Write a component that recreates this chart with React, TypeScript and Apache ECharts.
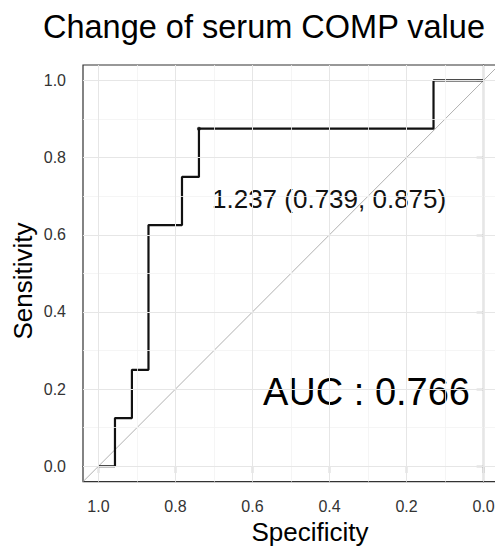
import React, { useEffect, useRef } from "react";
import * as echarts from "echarts";

// ROC curve (specificity, sensitivity)
const rocSpecificity = [1.0, 0.957, 0.957, 0.913, 0.913, 0.87, 0.87, 0.783, 0.783, 0.739, 0.739, 0.13, 0.13, 0.0];
const rocSensitivity = [0.0, 0.0, 0.125, 0.125, 0.25, 0.25, 0.625, 0.625, 0.75, 0.75, 0.875, 0.875, 1.0, 1.0];
// best threshold point
const thresholdPoint = [0.739, 0.875];
const thresholdLabel = "1.237 (0.739, 0.875)";
const aucLabel = "AUC : 0.766";
const titleText = "Change of serum COMP value";
const xAxisTitle = "Specificity";
const yAxisTitle = "Sensitivity";
// identity line across the whole panel
const diagSpecificity = [1.04, -0.04];
const diagSensitivity = [-0.04, 1.04];
const majorTicks = [0, 0.2, 0.4, 0.6, 0.8, 1.0];
const minorTicks = [0.1, 0.3, 0.5, 0.7, 0.9];
const axisMin = -0.04;
const axisMax = 1.04;

const FONT = "'Liberation Sans', Arial, Helvetica, sans-serif";

export default function App() {
  const ref = useRef<HTMLDivElement>(null);
  useEffect(() => {
    document.body.style.margin = "0";
    if (!ref.current) return;
    const chart = echarts.init(ref.current, null, { renderer: "svg" });

    const rocData = rocSpecificity.map((s, i) => [s, rocSensitivity[i]]);
    const diagData = diagSpecificity.map((s, i) => [s, diagSensitivity[i]]);

    const gridLines: any[] = [];
    const addLines = (v: number, color: string, width: number) => {
      const ls = { color, width, type: "solid" };
      gridLines.push([
        { coord: [v, axisMin], lineStyle: ls },
        { coord: [v, axisMax] },
      ]);
      gridLines.push([
        { coord: [axisMin, v], lineStyle: ls },
        { coord: [axisMax, v] },
      ]);
    };
    minorTicks.forEach((v) => addLines(v, "#f3f3f3", 0.8));
    majorTicks.forEach((v) => addLines(v, "#e6e6e6", 1));

    const axisCommon = {
      type: "value",
      min: axisMin,
      max: axisMax,
      splitLine: { show: false },
      axisLine: { show: true, lineStyle: { color: "#333", width: 1.2 } },
      axisTick: {
        show: true,
        length: 7,
        customValues: majorTicks,
        lineStyle: { color: "#333", width: 1.2 },
      },
      axisLabel: {
        customValues: majorTicks,
        formatter: (v: number) => v.toFixed(1),
        color: "#333",
        fontSize: 16,
        fontFamily: FONT,
        margin: 17,
      },
    };

    chart.setOption({
      animation: false,
      backgroundColor: "#ffffff",
      grid: {
        left: 83,
        top: 65,
        width: 416,
        height: 416.7,
        show: true,
        borderColor: "#333",
        borderWidth: 1.2,
        backgroundColor: "#ffffff",
        containLabel: false,
        outerBoundsMode: "none",
      },
      xAxis: { ...axisCommon, inverse: true },
      yAxis: { ...axisCommon },
      series: [
        {
          type: "line",
          data: [],
          z: 0,
          silent: true,
          markLine: {
            silent: true,
            symbol: "none",
            label: { show: false },
            lineStyle: { type: "solid", color: "#e6e6e6" },
            data: gridLines,
          },
        },
        {
          type: "line",
          data: diagData,
          z: 1,
          symbol: "none",
          silent: true,
          lineStyle: { color: "#b0b0b0", width: 1 },
        },
        {
          type: "line",
          data: rocData,
          z: 3,
          symbol: "none",
          silent: true,
          lineStyle: { color: "#111", width: 2.2 },
        },
        {
          type: "scatter",
          data: [thresholdPoint],
          z: 4,
          symbolSize: 4,
          itemStyle: { color: "#111" },
          silent: true,
        },
      ],
      graphic: [
        {
          type: "text",
          x: 43,
          y: 27,
          style: {
            text: titleText,
            font: `32.5px ${FONT}`,
            fill: "#000",
            align: "left",
            verticalAlign: "middle",
          },
        },
        {
          type: "text",
          x: 212,
          y: 198.5,
          style: {
            text: thresholdLabel,
            font: `26px ${FONT}`,
            fill: "#111",
            align: "left",
            verticalAlign: "middle",
          },
        },
        {
          type: "text",
          x: 263,
          y: 392,
          style: {
            text: aucLabel,
            font: `38px ${FONT}`,
            fill: "#000",
            align: "left",
            verticalAlign: "middle",
          },
        },
        {
          type: "text",
          x: 310,
          y: 532,
          style: {
            text: xAxisTitle,
            font: `26px ${FONT}`,
            fill: "#000",
            align: "center",
            verticalAlign: "middle",
          },
        },
        {
          type: "text",
          x: 23,
          y: 281,
          rotation: Math.PI / 2,
          style: {
            text: yAxisTitle,
            font: `26px ${FONT}`,
            fill: "#000",
            align: "center",
            verticalAlign: "middle",
          },
        },
      ],
    });
    return () => chart.dispose();
  }, []);
  return <div ref={ref} style={{ width: 495, height: 547 }} />;
}
